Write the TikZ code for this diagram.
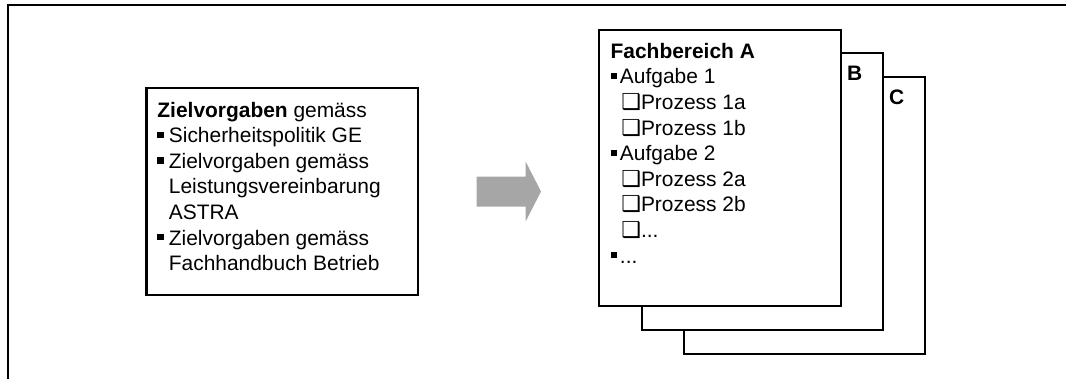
\documentclass[tikz,border=0pt]{standalone}
\usepackage{fontspec}
\setmainfont{Liberation Sans}
\newfontfamily\dingfont{DejaVu Sans}
\definecolor{arrowgray}{RGB}{166,166,166}
\newcommand{\bul}[1]{\makebox[#1][l]{\rule[3.5pt]{4.6pt}{4.6pt}}}
\newcommand{\hollowsq}{{\dingfont\bfseries\fontsize{16.5}{16.5}\selectfont ❑}}

\tikzset{every picture/.style={line width=1.7pt}}
\tikzset{page/.style={draw,fill=white}}
\tikzset{listtext/.style={inner sep=0pt,align=left,font=\fontsize{15.7}{19.2}\selectfont}}

\begin{document}
\begin{tikzpicture}[x=0.75pt,y=0.75pt,yscale=-1,xscale=1]
\useasboundingbox (0,0) rectangle (1066,379);

% Frame
\draw (1066,5) -- (7.7,5) -- (7.7,379);

% Rect Zielvorgaben
\draw (146.5,88.3) rectangle (418,295.3);
% Text Node
\draw (156.3,100.7) node (ziel) [anchor=north west][listtext] {\textbf{Zielvorgaben} gemäss\\\bul{8.6pt}Sicherheitspolitik GE\\\bul{8.6pt}Zielvorgaben gemäss\\\hspace*{8.6pt}Leistungsvereinbarung\\\hspace*{8.6pt}ASTRA\\\bul{8.6pt}Zielvorgaben gemäss\\\hspace*{8.6pt}Fachhandbuch Betrieb};

% Block arrow
\fill [arrowgray] (476.7,176.7) -- (525.7,176.7) -- (525.7,161.7) -- (541,191.5) -- (525.7,221.3) -- (525.7,206.7) -- (476.7,206.7) -- cycle;

% Rect C
\draw [page] (684.3,77.3) rectangle (925,353.7);
% Rect B
\draw [page] (641.7,53.3) rectangle (883.3,329.7);
% Rect A
\draw [page] (599.3,30) rectangle (841,306);

% Text Node
\draw (846,80.7) node (lblb) [anchor=base west][inner sep=0pt] [font=\fontsize{15.7}{19.2}\selectfont\bfseries] {B};
% Text Node
\draw (888,104) node (lblc) [anchor=base west][inner sep=0pt] [font=\fontsize{15.7}{19.2}\selectfont\bfseries] {C};
% Text Node
\draw (609.5,42) node (fach) [anchor=north west][listtext] {\textbf{Fachbereich A}\\\bul{7pt}Aufgabe 1\\\hspace*{8pt}\hollowsq Prozess 1a\\\hspace*{8pt}\hollowsq Prozess 1b\\\bul{7pt}Aufgabe 2\\\hspace*{8pt}\hollowsq Prozess 2a\\\hspace*{8pt}\hollowsq Prozess 2b\\\hspace*{8pt}\hollowsq ...\\\bul{7pt}...};

\end{tikzpicture}
\end{document}
